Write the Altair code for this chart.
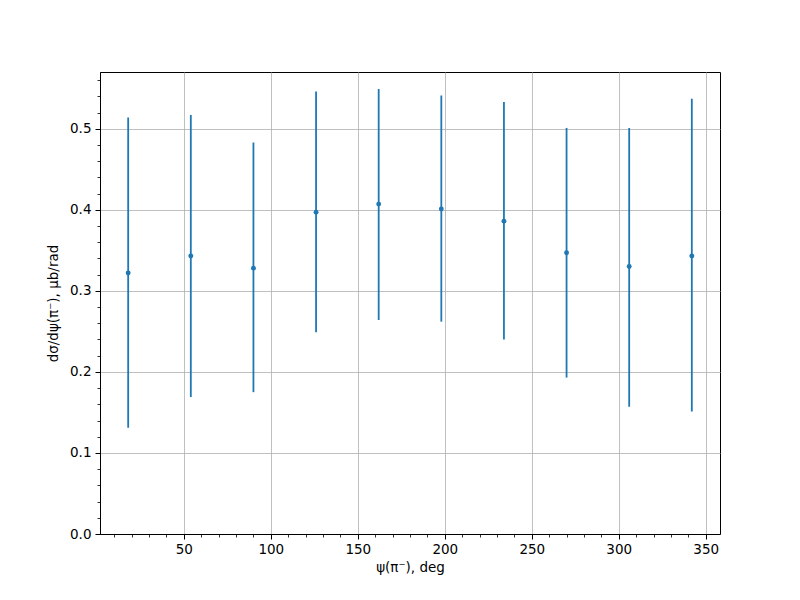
import altair as alt
import pandas as pd

psi = [18, 54, 90, 126, 162, 198, 234, 270, 306, 342]
val = [0.322, 0.343, 0.328, 0.397, 0.407, 0.401, 0.386, 0.347, 0.330, 0.343]
hi = [0.514, 0.517, 0.483, 0.546, 0.549, 0.541, 0.533, 0.501, 0.501, 0.537]
lo = [0.131, 0.169, 0.175, 0.249, 0.264, 0.262, 0.240, 0.193, 0.157, 0.151]

x_major = [50, 100, 150, 200, 250, 300, 350]
y_major = [0.0, 0.1, 0.2, 0.3, 0.4, 0.5]
x_minor = list(range(10, 360, 10))
y_minor = [round(i * 0.02, 2) for i in range(0, 29)]

df = pd.DataFrame({"psi": psi, "val": val, "hi": hi, "lo": lo})

color = "#1f77b4"
font = "DejaVu Sans"
xscale = alt.Scale(domain=[1.8, 358.2], nice=False, zero=False)
yscale = alt.Scale(domain=[0, 0.57], nice=False, zero=False)

points = alt.Chart(df).mark_circle(size=24, color=color, opacity=1).encode(
    x=alt.X("psi:Q", scale=xscale,
            axis=alt.Axis(values=x_major, title="ψ(π⁻), deg", grid=True,
                          gridColor="#b0b0b0", gridWidth=0.8, tickSize=5,
                          tickWidth=1, tickColor="black", domainColor="black",
                          domainWidth=1, labelFontSize=13.5, labelColor="black",
                          labelFont=font, labelPadding=3, titleFont=font,
                          titleFontSize=13.5, titleFontWeight="normal",
                          titleColor="black", titlePadding=5, orient="bottom")),
    y=alt.Y("val:Q", scale=yscale,
            axis=alt.Axis(values=y_major, title="dσ/dψ(π⁻), μb/rad", grid=True,
                          gridColor="#b0b0b0", gridWidth=0.8, tickSize=5,
                          tickWidth=1, tickColor="black", domainColor="black",
                          domainWidth=1, labelFontSize=13.5, labelColor="black",
                          labelFont=font, labelPadding=4, format=".1f",
                          titleFont=font, titleFontSize=13.5,
                          titleFontWeight="normal", titleColor="black",
                          titlePadding=9, orient="left")),
)

bars = alt.Chart(df).mark_rule(color=color, strokeWidth=1.8).encode(
    x=alt.X("psi:Q", scale=xscale,
            axis=alt.Axis(values=x_minor, title=None, labels=False, grid=False,
                          domain=False, tickSize=3, tickWidth=0.8,
                          tickColor="black", orient="bottom")),
    y=alt.Y("lo:Q", scale=yscale,
            axis=alt.Axis(values=y_minor, title=None, labels=False, grid=False,
                          domain=False, tickSize=3, tickWidth=0.8,
                          tickColor="black", orient="left")),
    y2="hi:Q",
)

chart = (
    alt.layer(bars, points)
    .resolve_axis(x="independent", y="independent")
    .properties(
        width=620,
        height=462,
        background="white",
        padding={"left": 92, "top": 64, "right": 64, "bottom": 50},
        autosize=alt.AutoSizeParams(type="none"),
    )
    .configure_view(stroke="black", strokeWidth=1)
)

chart.save("out.html", embed_options={"renderer": "svg", "actions": False})
